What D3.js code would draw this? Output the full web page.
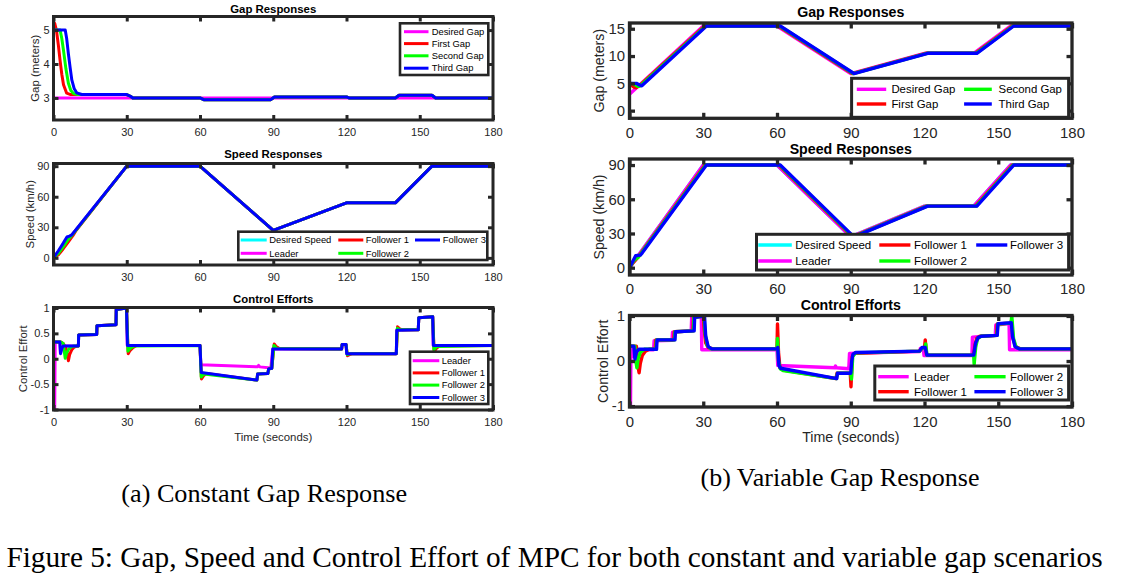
<!DOCTYPE html>
<meta charset="utf-8">

<head>
  <title>mpc-gap-speed-effort</title>
</head>

<style>
  body { margin: 0; background: #fff; }
  svg text { font-family: "Liberation Sans", Arial, Helvetica, sans-serif; }
  .cap { font-family: "Liberation Serif", "Times New Roman", serif; fill: #000; }
</style>

<body>
  <svg width="1123" height="577"></svg>

  <script src="https://cdnjs.cloudflare.com/ajax/libs/d3/7.8.5/d3.min.js"></script>

  <script>
    // ---- shared ----
    var timeTicks = [0, 30, 60, 90, 120, 150, 180];
    var gapTicksConst = [3, 4, 5];
    var gapTicksVar = [0, 5, 10, 15];
    var speedTicks = [0, 30, 60, 90];
    var effortTicks = [-1, -0.5, 0, 0.5, 1];
    var effortTicksVar = [-1, 0, 1];

    // ---- (a) constant gap: gaps [t, metres] ----
    var cgDesiredGap = [[0, 3], [180, 3]];
    var cgFirstGap = [[0, 5.05], [0.5, 5.2], [1.2, 5.0], [2, 4.55], [2.7, 4.1], [3.4, 3.7], [4.1, 3.39], [5.4, 3.14], [7, 3.1],
      [30, 3.1], [31.5, 3.05], [32.5, 3.0], [60, 3.0], [61.5, 2.95], [89, 2.95], [90.5, 3.03], [120, 3.03], [121, 3.0],
      [140, 3.0], [141.5, 3.08], [155, 3.08], [156.5, 3.0], [180, 3.0]];
    var cgSecondGap = [[0, 5], [2.7, 5], [3.4, 4.75], [4.1, 4.4], [5.1, 3.85], [6.1, 3.43], [7.1, 3.22], [8.2, 3.13], [10, 3.1],
      [30, 3.1], [31.5, 3.05], [32.5, 3.0], [60, 3.0], [61.5, 2.95], [89, 2.95], [90.5, 3.03], [120, 3.03], [121, 3.0],
      [140, 3.0], [141.5, 3.08], [155, 3.08], [156.5, 3.0], [180, 3.0]];
    var cgThirdGap = [[0, 5], [4.8, 5], [5.4, 4.75], [6.1, 4.3], [6.8, 3.9], [7.5, 3.53], [8.5, 3.27], [9.5, 3.15], [11.6, 3.1],
      [30, 3.1], [31.5, 3.05], [32.5, 3.0], [60, 3.0], [61.5, 2.95], [89, 2.95], [90.5, 3.03], [120, 3.03], [121, 3.0],
      [140, 3.0], [141.5, 3.08], [155, 3.08], [156.5, 3.0], [180, 3.0]];

    // ---- (a) speeds [t, km/h] ----
    var cgDesiredSpeed = [[0, 0], [30, 90], [60, 90], [90, 27], [120, 54], [140, 54], [155, 90], [180, 90]];
    var cgLeaderSpeed = [[0, 0], [30, 90], [60, 90], [90, 27], [120, 54], [140, 54], [155, 90], [180, 90]];
    var cgF1Speed = [[0, 0], [2, 3], [4, 9], [6, 15.5], [8, 22], [9, 26], [30, 90], [60, 90], [90, 27], [120, 54], [140, 54], [155, 90], [180, 90]];
    var cgF2Speed = [[0, 0], [2, 4.5], [4, 11], [6, 18], [8, 23.5], [9, 26.5], [30, 90], [60, 90], [90, 27], [120, 54], [140, 54], [155, 90], [180, 90]];
    var cgF3Speed = [[0, 0], [2, 7], [4, 14.5], [5.5, 20.5], [6.5, 21.3], [7.5, 22.5], [30, 90], [60, 90], [90, 27], [120, 54], [140, 54], [155, 90], [180, 90]];

    // ---- (a) control efforts [t, u] ----
    var cgLeaderU = [[0, -1], [0.5, -1], [0.7, 0.33], [2.6, 0.33], [2.8, 0.11], [3.3, 0.2], [4, 0.25], [10.2, 0.25], [10.3, 0.47],
      [17.7, 0.48], [17.8, 0.65], [25.6, 0.67], [25.7, 0.97], [29.9, 1.0], [30.2, 0.26], [60, 0.26], [60.3, -0.12],
      [83.5, -0.16], [84, -0.13], [84.5, -0.16], [89, -0.18], [89.8, 0.19], [118, 0.19], [118.2, 0.28], [119.8, 0.28],
      [120.1, 0.1], [140.4, 0.1], [140.6, 0.56], [149.4, 0.57], [149.6, 0.81], [155.3, 0.83], [155.5, 0.26], [180, 0.26]];
    var cgF1U = [[0, 0.33], [3, 0.33], [4, 0.3], [5, 0.22], [5.6, 0.1], [6.1, -0.04], [6.6, 0.08], [7.5, 0.18], [8.5, 0.23],
      [9.5, 0.25], [10.2, 0.25], [10.3, 0.47], [17.7, 0.48], [17.8, 0.65], [25.6, 0.67], [25.7, 0.97], [29.9, 1.0],
      [30.6, 0.1], [31.3, 0.16], [32.5, 0.22], [34, 0.26], [60, 0.26], [60.6, -0.4], [61.4, -0.34], [62.5, -0.29],
      [83.3, -0.42], [83.6, -0.3], [87.8, -0.29], [88.1, -0.2], [89.4, -0.19], [90.4, 0.29], [91.2, 0.24], [92.5, 0.2],
      [118, 0.19], [118.2, 0.28], [119.8, 0.28], [120.4, 0.06], [121.2, 0.08], [122.5, 0.1], [140.4, 0.1], [140.9, 0.63],
      [141.8, 0.59], [143, 0.57], [149.4, 0.57], [149.6, 0.81], [155.3, 0.83], [155.9, 0.14], [156.7, 0.2], [158, 0.25], [180, 0.26]];
    var cgF2U = [[0, 0.33], [3, 0.33], [4, 0.3], [4.4, 0.15], [4.8, 0.01], [5.3, 0.1], [6.2, 0.19], [7.5, 0.24], [8.5, 0.25],
      [10.2, 0.25], [10.3, 0.47], [17.7, 0.48], [17.8, 0.65], [25.6, 0.67], [25.7, 0.97], [29.9, 1.0], [30.5, 0.15],
      [31.3, 0.2], [33, 0.25], [60, 0.26], [60.5, -0.36], [61.5, -0.3], [83.3, -0.42], [83.6, -0.3], [87.8, -0.29],
      [88.1, -0.2], [89.4, -0.19], [90.3, 0.26], [91.5, 0.2], [118, 0.19], [118.2, 0.28], [119.8, 0.28], [120.3, 0.08],
      [121.5, 0.1], [140.4, 0.1], [140.8, 0.6], [142, 0.57], [149.4, 0.57], [149.6, 0.81], [155.3, 0.83], [155.8, 0.18],
      [157, 0.24], [180, 0.26]];
    var cgF3U = [[0, 0.33], [2.6, 0.33], [2.9, 0.1], [3.4, 0.2], [4, 0.25], [10.2, 0.25], [10.3, 0.47], [17.7, 0.48],
      [17.8, 0.65], [25.6, 0.67], [25.7, 0.97], [29.9, 1.0], [30.3, 0.26], [60, 0.26], [60.5, -0.27], [83.3, -0.42],
      [83.6, -0.3], [87.8, -0.29], [88.1, -0.2], [89.4, -0.19], [89.8, 0.19], [118, 0.19], [118.2, 0.28], [119.8, 0.28],
      [120.1, 0.1], [140.4, 0.1], [140.6, 0.56], [149.4, 0.57], [149.6, 0.81], [155.3, 0.83], [155.6, 0.26], [180, 0.26]];

    // ---- (b) variable gap: gaps ----
    var vgDesiredGap = [[0, 3], [30, 15.5], [60, 15.5], [90, 6.8], [120, 10.5], [140, 10.5], [155, 15.5], [180, 15.5]];
    var vgFirstGap = [[0, 5], [0.8, 4.7], [1.8, 4.3], [2.6, 4.2], [3.4, 4.4], [4, 4.55], [30.6, 15.5], [60.6, 15.5],
      [90.6, 6.8], [120.6, 10.5], [140.6, 10.5], [155.6, 15.5], [180, 15.5]];
    var vgSecondGap = [[0, 5], [1.5, 4.95], [2.5, 4.7], [3.4, 4.45], [4.4, 4.55], [31, 15.5], [61, 15.5], [91, 6.8],
      [121, 10.5], [141, 10.5], [156, 15.5], [180, 15.5]];
    var vgThirdGap = [[0, 5], [2.8, 5], [4, 4.7], [5, 4.55], [31.3, 15.5], [61.3, 15.5], [91.3, 6.8], [121.3, 10.5],
      [141.3, 10.5], [156.3, 15.5], [180, 15.5]];

    // ---- (b) speeds ----
    var vgDesiredSpeed = [[0, 0], [30, 90], [60, 90], [90, 27], [120, 54], [140, 54], [155, 90], [180, 90]];
    var vgLeaderSpeed = [[0, 0], [30, 90], [60, 90], [90, 27], [120, 54], [140, 54], [155, 90], [180, 90]];
    var vgF1Speed = [[0, 0], [1.5, 4.5], [3, 8], [30.7, 90], [60.7, 90], [90.7, 27], [120.7, 54], [140.7, 54], [155.7, 90], [180, 90]];
    var vgF2Speed = [[0, 0], [1.8, 6.5], [3.5, 9], [31, 90], [61, 90], [91, 27], [121, 54], [141, 54], [156, 90], [180, 90]];
    var vgF3Speed = [[0, 0], [2.5, 10.5], [4.4, 11], [5.2, 13], [31.3, 90], [61.3, 90], [91.3, 27], [121.3, 54], [141.3, 54], [156.3, 90], [180, 90]];

    // ---- (b) control efforts ----
    var vgLeaderU = [[0, -1], [0.4, -1], [0.6, 0.33], [1.4, 0.33], [1.8, 0.1], [2.3, 0.22], [3, 0.25], [9.8, 0.25], [10, 0.45],
      [17.3, 0.46], [17.5, 0.64], [25.1, 0.67], [25.3, 0.97], [29.2, 1.0], [29.4, 0.25], [60, 0.25], [60.3, -0.1],
      [83.5, -0.15], [83.8, -0.11], [84.2, -0.15], [89.2, -0.17], [89.5, 0.17], [118, 0.21], [118.3, 0.28], [119.5, 0.28],
      [119.8, 0.12], [139.3, 0.12], [139.5, 0.53], [148.8, 0.57], [149, 0.8], [154.4, 0.83], [154.6, 0.25], [180, 0.25]];
    var vgF1U = [[0, 0.33], [2.8, 0.33], [3.4, -0.1], [3.9, -0.26], [4.4, -0.05], [5.2, 0.12], [6.5, 0.22], [8, 0.26],
      [10.5, 0.26], [10.7, 0.47], [18, 0.47], [18.2, 0.65], [25.8, 0.67], [26, 0.97], [30, 1.0], [30.4, 0.7], [31, 0.4],
      [32, 0.3], [34, 0.27], [60, 0.27], [60.2, 0.82], [60.6, 0.2], [61.2, -0.15], [62.5, -0.2], [84, -0.39], [84.4, -0.27],
      [89.8, -0.27], [90.1, -0.57], [90.6, 0.1], [91.5, 0.17], [118, 0.22], [118.8, 0.28], [120, 0.3], [120.3, 0.47],
      [120.8, 0.15], [122, 0.13], [140, 0.13], [140.5, 0.35], [141.2, 0.5], [142.5, 0.55], [149.3, 0.57], [149.6, 0.82],
      [155, 0.84], [155.4, 0.9], [156, 0.5], [157, 0.32], [159, 0.27], [180, 0.27]];
    var vgF2U = [[0, 0.33], [2.2, 0.33], [2.6, 0.0], [3, -0.15], [3.5, 0.05], [4.5, 0.2], [6, 0.26], [10.8, 0.26], [11, 0.47],
      [18.3, 0.47], [18.5, 0.65], [26, 0.67], [26.2, 0.97], [30.3, 1.0], [30.8, 0.6], [31.6, 0.35], [33, 0.27], [60, 0.27],
      [60.2, 0.5], [60.6, 0.0], [61.3, -0.17], [62.5, -0.21], [84.2, -0.39], [84.6, -0.27], [90, -0.27], [90.3, -0.4],
      [90.8, 0.1], [92, 0.18], [118, 0.22], [119, 0.28], [120.2, 0.3], [120.5, 0.38], [121, 0.13], [140, 0.13],
      [140.2, -0.07], [140.8, 0.3], [141.6, 0.5], [143, 0.55], [149.5, 0.57], [149.8, 0.82], [155.2, 0.84], [155.5, 1.0],
      [156.2, 0.5], [157.3, 0.3], [159, 0.27], [180, 0.27]];
    var vgF3U = [[0, 0.33], [1.8, 0.33], [2.2, 0.04], [2.8, 0.2], [3.8, 0.26], [11, 0.26], [11.2, 0.47], [18.5, 0.47],
      [18.7, 0.65], [26.3, 0.67], [26.5, 0.97], [30.5, 1.0], [31, 0.55], [32, 0.32], [33.5, 0.27], [60, 0.27], [60.3, 0.3],
      [60.8, -0.1], [61.5, -0.16], [84.3, -0.39], [84.6, -0.27], [90, -0.27], [90.4, 0.0], [90.9, 0.15], [92, 0.19],
      [118, 0.22], [119, 0.3], [120.3, 0.3], [121, 0.13], [140, 0.13], [140.8, 0.4], [141.8, 0.52], [143, 0.55],
      [149.6, 0.57], [149.9, 0.83], [155.3, 0.85], [155.8, 0.55], [156.8, 0.32], [158.5, 0.27], [180, 0.27]];

    var C = { desired: '#ff00ff', first: '#ff0000', second: '#00ff00', third: '#0000ff', cyan: '#00ffff' };
    var INK = '#262626';

    var svg = d3.select('svg');
    svg.append('rect').attr('width', 1123).attr('height', 577).attr('fill', '#fff');
    var defs = svg.append('defs');
    var clipId = 0;

    function drawPanel(p) {
      var x = d3.scaleLinear().domain([0, 180]).range([p.left, p.right]);
      var y = d3.scaleLinear().domain(p.yDomain).range([p.bottom, p.top]);
      var g = svg.append('g');
      var id = 'clip' + (clipId++);
      defs.append('clipPath').attr('id', id).append('rect')
        .attr('x', p.left).attr('y', p.top)
        .attr('width', p.right - p.left).attr('height', p.bottom - p.top);

      var line = d3.line().x(function(d) { return x(d[0]); }).y(function(d) { return y(d[1]); });
      var lines = g.append('g').attr('clip-path', 'url(#' + id + ')');
      p.series.forEach(function(s) {
        lines.append('path').datum(s.data)
          .attr('d', line)
          .attr('fill', 'none')
          .attr('stroke', s.color)
          .attr('stroke-width', p.lw)
          .attr('stroke-linejoin', 'round');
      });

      function styleAxis(a) {
        a.attr('font-size', p.fs).attr('font-family', null);
        a.select('.domain').remove();
        a.selectAll('.tick line').attr('stroke', INK).attr('stroke-width', p.tw);
        a.selectAll('.tick text').attr('fill', INK);
      }
      var fmt = function(d) { return String(d); };
      g.append('g').attr('transform', 'translate(0,' + p.bottom + ')')
        .call(d3.axisBottom(x).tickValues(timeTicks).tickSize(-p.tl).tickPadding(p.xpad)
          .tickFormat(p.xFormat || fmt))
        .call(styleAxis);
      g.append('g').attr('transform', 'translate(0,' + p.top + ')')
        .call(d3.axisTop(x).tickValues(timeTicks).tickSize(-p.tl).tickFormat(''))
        .call(styleAxis);
      g.append('g').attr('transform', 'translate(' + p.left + ',0)')
        .call(d3.axisLeft(y).tickValues(p.yTicks).tickSize(-p.tl).tickPadding(p.ypad).tickFormat(fmt))
        .call(styleAxis);
      g.append('g').attr('transform', 'translate(' + p.right + ',0)')
        .call(d3.axisRight(y).tickValues(p.yTicks).tickSize(-p.tl).tickFormat(''))
        .call(styleAxis);

      g.append('rect')
        .attr('x', p.left).attr('y', p.top)
        .attr('width', p.right - p.left).attr('height', p.bottom - p.top)
        .attr('fill', 'none').attr('stroke', INK).attr('stroke-width', p.fw);

      var cx = (p.left + p.right) / 2;
      g.append('text').text(p.title)
        .attr('x', cx).attr('y', p.titleY).attr('dy', '0.35em')
        .attr('text-anchor', 'middle').attr('font-weight', 'bold')
        .attr('font-size', p.tfs).attr('fill', '#000');
      g.append('text').text(p.ylabel)
        .attr('transform', 'translate(' + p.ylabX + ',' + ((p.top + p.bottom) / 2) + ') rotate(-90)')
        .attr('dy', '0.35em').attr('text-anchor', 'middle')
        .attr('font-size', p.lfs).attr('fill', INK);
      if (p.xlabel) {
        g.append('text').text(p.xlabel)
          .attr('x', cx).attr('y', p.xlabY).attr('dy', '0.35em')
          .attr('text-anchor', 'middle').attr('font-size', p.lfs).attr('fill', INK);
      }

      // legend
      var L = p.legend;
      var lg = g.append('g');
      lg.append('rect').attr('x', L.box[0]).attr('y', L.box[1])
        .attr('width', L.box[2] - L.box[0]).attr('height', L.box[3] - L.box[1])
        .attr('fill', '#fff').attr('stroke', INK).attr('stroke-width', L.bw);
      L.items.forEach(function(it) {
        var col = L.cols[it.col], ry = L.rows[it.row];
        lg.append('line').attr('x1', col[0]).attr('x2', col[1]).attr('y1', ry).attr('y2', ry)
          .attr('stroke', p.series[it.s].color).attr('stroke-width', p.lw);
        lg.append('text').text(p.series[it.s].name)
          .attr('x', col[2]).attr('y', ry).attr('dy', '0.35em')
          .attr('font-size', L.fs).attr('fill', '#000');
      });
    }

    var leftBase = { left: 53.5, right: 493, lw: 3, tw: 3, tl: 5, fw: 3, fs: 11, tfs: 11.4, lfs: 11.4, xpad: 7.8, ypad: 4 };
    var rightBase = { left: 629.5, right: 1072, lw: 3.4, tw: 3.3, tl: 5.5, fw: 3.3, fs: 14.9, tfs: 14.2, lfs: 14.2, xpad: 9, ypad: 4.5 };

    var panels = [
      Object.assign({}, leftBase, {
        top: 16.5, bottom: 120, yDomain: [2.35, 5.4], yTicks: gapTicksConst,
        title: 'Gap Responses', titleY: 9.3, ylabel: 'Gap (meters)', ylabX: 35,
        series: [
          { name: 'Desired Gap', color: C.desired, data: cgDesiredGap },
          { name: 'First Gap', color: C.first, data: cgFirstGap },
          { name: 'Second Gap', color: C.second, data: cgSecondGap },
          { name: 'Third Gap', color: C.third, data: cgThirdGap }
        ],
        legend: { box: [400, 23.3, 488.3, 75], bw: 2.6, fs: 9.4,
          cols: [[404, 428.5, 431.7]], rows: [31.7, 43.6, 55.8, 68.2],
          items: [{ s: 0, col: 0, row: 0 }, { s: 1, col: 0, row: 1 }, { s: 2, col: 0, row: 2 }, { s: 3, col: 0, row: 3 }] }
      }),
      Object.assign({}, leftBase, {
        top: 163.5, bottom: 265, yDomain: [-7, 92.6], yTicks: speedTicks,
        xFormat: function(d) { return d === 0 ? '' : String(d); },
        title: 'Speed Responses', titleY: 154.3, ylabel: 'Speed (km/h)', ylabX: 30,
        series: [
          { name: 'Desired Speed', color: C.cyan, data: cgDesiredSpeed },
          { name: 'Leader', color: C.desired, data: cgLeaderSpeed },
          { name: 'Follower 1', color: C.first, data: cgF1Speed },
          { name: 'Follower 2', color: C.second, data: cgF2Speed },
          { name: 'Follower 3', color: C.third, data: cgF3Speed }
        ],
        legend: { box: [238.3, 231.7, 487.3, 260], bw: 2.6, fs: 9.4,
          cols: [[240.7, 266.7, 269.3], [338.3, 363.3, 365.7], [415, 440, 442.7]], rows: [240, 253.3],
          items: [{ s: 0, col: 0, row: 0 }, { s: 1, col: 0, row: 1 }, { s: 2, col: 1, row: 0 }, { s: 3, col: 1, row: 1 }, { s: 4, col: 2, row: 0 }] }
      }),
      Object.assign({}, leftBase, {
        top: 307.5, bottom: 410, yDomain: [-1.01, 1.01], yTicks: effortTicks,
        title: 'Control Efforts', titleY: 299.3, ylabel: 'Control Effort', ylabX: 22.7,
        xlabel: 'Time (seconds)', xlabY: 436.7,
        series: [
          { name: 'Leader', color: C.desired, data: cgLeaderU },
          { name: 'Follower 1', color: C.first, data: cgF1U },
          { name: 'Follower 2', color: C.second, data: cgF2U },
          { name: 'Follower 3', color: C.third, data: cgF3U }
        ],
        legend: { box: [410, 351.7, 488.3, 404], bw: 2.6, fs: 9.4,
          cols: [[412.7, 439.3, 441.7]], rows: [360.7, 372.9, 385.1, 397.5],
          items: [{ s: 0, col: 0, row: 0 }, { s: 1, col: 0, row: 1 }, { s: 2, col: 0, row: 2 }, { s: 3, col: 0, row: 3 }] }
      }),
      Object.assign({}, rightBase, {
        top: 23, bottom: 118.3, yDomain: [-1.4, 16.05], yTicks: gapTicksVar,
        title: 'Gap Responses', titleY: 11.7, ylabel: 'Gap (meters)', ylabX: 599.2,
        series: [
          { name: 'Desired Gap', color: C.desired, data: vgDesiredGap },
          { name: 'First Gap', color: C.first, data: vgFirstGap },
          { name: 'Second Gap', color: C.second, data: vgSecondGap },
          { name: 'Third Gap', color: C.third, data: vgThirdGap }
        ],
        legend: { box: [851.6, 78.3, 1068.6, 117.3], bw: 3, fs: 11.4,
          cols: [[856.8, 886.2, 891.4], [964.1, 991.8, 998.6]], rows: [89.3, 104],
          items: [{ s: 0, col: 0, row: 0 }, { s: 1, col: 0, row: 1 }, { s: 2, col: 1, row: 0 }, { s: 3, col: 1, row: 1 }] }
      }),
      Object.assign({}, rightBase, {
        top: 159, bottom: 275, yDomain: [-6.4, 95.3], yTicks: speedTicks, xpad: 8,
        title: 'Speed Responses', titleY: 149.3, ylabel: 'Speed (km/h)', ylabX: 599.2,
        series: [
          { name: 'Desired Speed', color: C.cyan, data: vgDesiredSpeed },
          { name: 'Leader', color: C.desired, data: vgLeaderSpeed },
          { name: 'Follower 1', color: C.first, data: vgF1Speed },
          { name: 'Follower 2', color: C.second, data: vgF2Speed },
          { name: 'Follower 3', color: C.third, data: vgF3Speed }
        ],
        legend: { box: [756.5, 234.3, 1068.6, 270], bw: 3, fs: 11.5,
          cols: [[758.3, 791.8, 795.2], [879.3, 910.4, 913.9], [976.2, 1007.3, 1010]], rows: [245, 261],
          items: [{ s: 0, col: 0, row: 0 }, { s: 1, col: 0, row: 1 }, { s: 2, col: 1, row: 0 }, { s: 3, col: 1, row: 1 }, { s: 4, col: 2, row: 0 }] }
      }),
      Object.assign({}, rightBase, {
        top: 315.5, bottom: 407, yDomain: [-1.02, 1.01], yTicks: effortTicksVar,
        title: 'Control Efforts', titleY: 305, ylabel: 'Control Effort', ylabX: 603,
        xlabel: 'Time (seconds)', xlabY: 436.7,
        series: [
          { name: 'Leader', color: C.desired, data: vgLeaderU },
          { name: 'Follower 1', color: C.first, data: vgF1U },
          { name: 'Follower 2', color: C.second, data: vgF2U },
          { name: 'Follower 3', color: C.third, data: vgF3U }
        ],
        legend: { box: [874.8, 366, 1068.6, 400], bw: 3, fs: 11.5,
          cols: [[878.2, 908.7, 913.9], [974.4, 1005.6, 1010]], rows: [376.7, 391.7],
          items: [{ s: 0, col: 0, row: 0 }, { s: 1, col: 0, row: 1 }, { s: 2, col: 1, row: 0 }, { s: 3, col: 1, row: 1 }] }
      })
    ];

    panels.forEach(drawPanel);

    // captions
    svg.append('text').attr('class', 'cap').text('(a) Constant Gap Response')
      .attr('x', 264.2).attr('y', 501.5).attr('text-anchor', 'middle').attr('font-size', 26.2);
    svg.append('text').attr('class', 'cap').text('(b) Variable Gap Response')
      .attr('x', 840).attr('y', 485.5).attr('text-anchor', 'middle').attr('font-size', 26);
    svg.append('text').attr('class', 'cap')
      .text('Figure 5: Gap, Speed and Control Effort of MPC for both constant and variable gap scenarios')
      .attr('x', 6.4).attr('y', 566.5).attr('font-size', 29.3);
  </script>
</body>

</html>
